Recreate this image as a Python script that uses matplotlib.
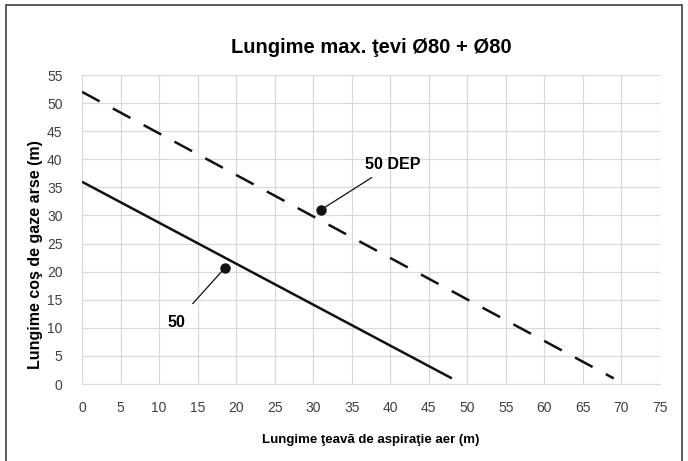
import matplotlib.pyplot as plt
from matplotlib.patches import Rectangle

plt.rcParams['font.family'] = ['Liberation Sans Narrow', 'Liberation Sans', 'DejaVu Sans']

# series (endpoints)
x_50 = [0, 48]
y_50 = [36, 1]
x_50dep = [0, 69]
y_50dep = [52, 1]

x_ticks = list(range(0, 80, 5))
y_ticks = list(range(0, 60, 5))

fig = plt.figure(figsize=(6.88, 4.61), dpi=100)
ax = fig.add_axes([82 / 688, 1 - 384 / 461, (660 - 82) / 688, (384 - 75) / 461])

ax.plot(x_50, y_50, color='#111111', lw=1.8, solid_capstyle='butt')
ax.plot(x_50dep, y_50dep, color='#111111', lw=1.8, dashes=(8, 6), dash_capstyle='butt')

ax.set_xlim(0, 75)
ax.set_ylim(0, 55)
ax.set_xticks(x_ticks)
ax.set_yticks(y_ticks)
ax.grid(True, color='#d9d9d9', lw=0.9)
ax.set_axisbelow(True)
for s in ['top', 'right', 'left']:
    ax.spines[s].set_visible(False)
ax.spines['bottom'].set_color('#d9d9d9')
ax.tick_params(length=0, labelsize=10, labelcolor='#404040')
ax.tick_params(axis='x', pad=12)
ax.tick_params(axis='y', pad=14)

ax.set_xlabel('Lungime ţeavă de aspiraţie aer (m)', fontsize=9.5, fontweight='bold', labelpad=14)
ax.set_ylabel('Lungime coş de gaze arse (m)', fontsize=11.5, fontweight='bold')
ax.yaxis.set_label_coords(-0.068, 0.42)
ax.set_title('Lungime max. ţevi Ø80 + Ø80', fontsize=14.5, fontweight='bold', pad=16)

# callouts
ax.plot([18.5], [20.6], 'o', color='#111111', ms=6.5)
ax.annotate('50', xy=(18.5, 20.6), xytext=(12.2, 11.0), fontsize=11.5, fontweight='bold',
            ha='center', va='center',
            arrowprops=dict(arrowstyle='-', color='#111111', lw=0.9, shrinkA=8, shrinkB=0))
ax.plot([31.0], [31.0], 'o', color='#111111', ms=6.5)
ax.annotate('50 DEP', xy=(31.0, 31.0), xytext=(36.7, 39.1), fontsize=11.5, fontweight='bold',
            ha='left', va='center',
            arrowprops=dict(arrowstyle='-', color='#111111', lw=0.9, shrinkA=4, shrinkB=0))

fig.patches.append(Rectangle((6 / 688, -0.05), 676 / 688, 1.05 - 5 / 461, transform=fig.transFigure,
                             fill=False, edgecolor='#404040', lw=1.2))

fig.savefig('out.png', dpi=100)
